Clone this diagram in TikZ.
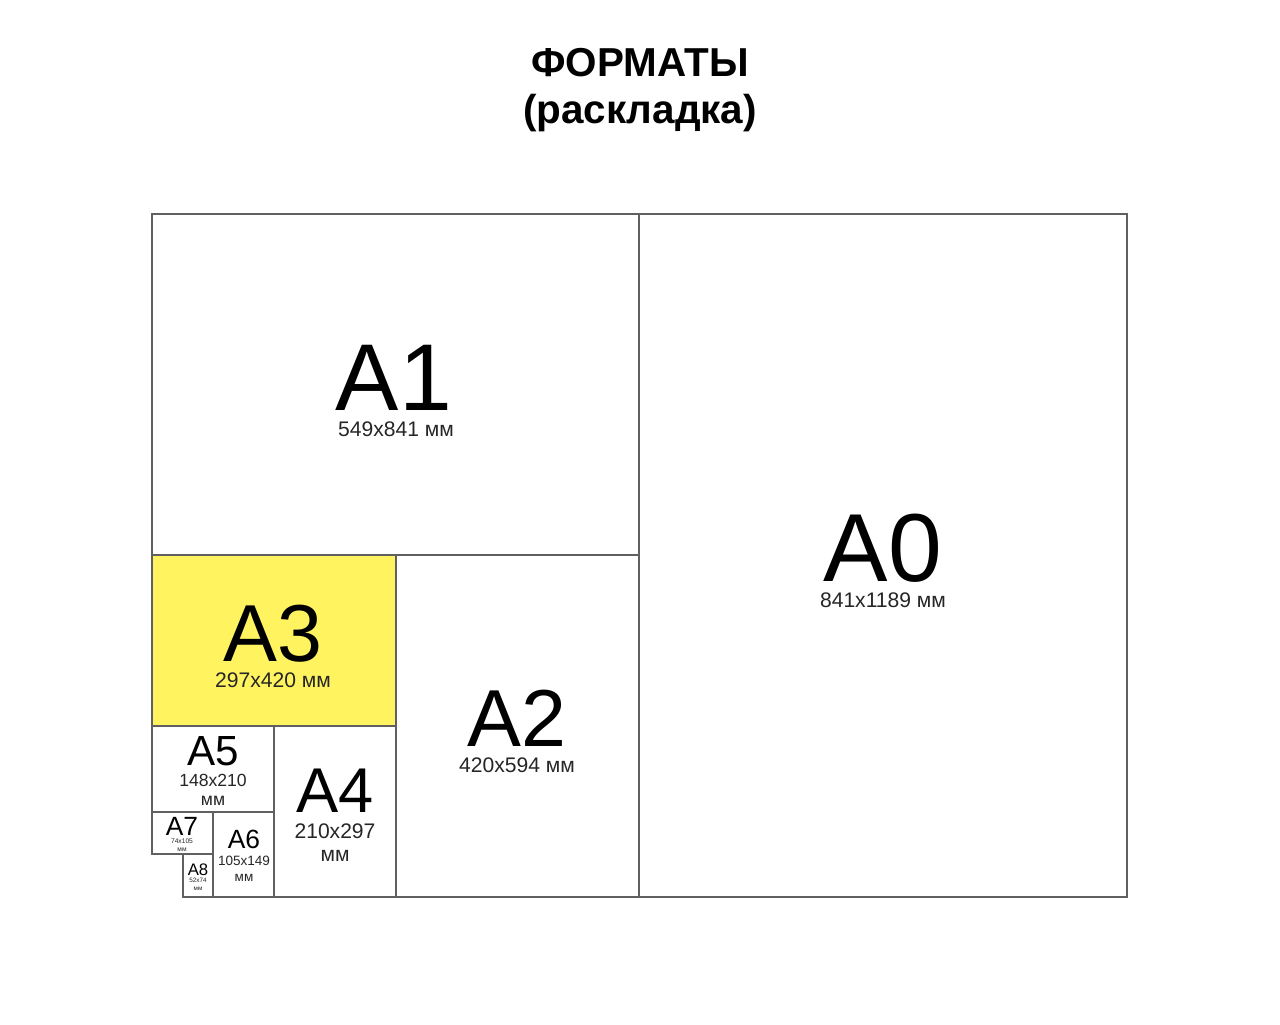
\documentclass[tikz,border=0pt]{standalone}
\usepackage{fontspec}
\setmainfont{Liberation Sans}
\definecolor{sheetgrey}{HTML}{606060}
\definecolor{athree}{HTML}{FFF35F}
\begin{document}
\begin{tikzpicture}[
        x=0.02cm, y=-0.02cm,
        sheet/.style={draw=sheetgrey, line width=0.6pt},
        fmt/.style={anchor=base, inner sep=0pt, font=\fontsize{#1}{#1}\selectfont},
        size/.style={anchor=base, inner sep=0pt, font=\fontsize{#1}{#1}\selectfont, text=black!85},
        title/.style={anchor=base, inner sep=0pt, font=\fontsize{23}{23}\selectfont\bfseries}
    ]
    \useasboundingbox[fill=white] (0,0) rectangle (1280,1024);
    % Title
    \node[title] (t1) at (640, 77) {ФОРМАТЫ};
    \node[title] (t2) at (640, 123) {(раскладка)};
    % Sheets
    \fill[athree] (152,555) rectangle (396,726);
    \draw[sheet] (639,214) rectangle (1127,897);
    \draw[sheet] (152,214) rectangle (639,555);
    \draw[sheet] (396,555) rectangle (639,897);
    \draw[sheet] (152,555) rectangle (396,726);
    \draw[sheet] (274,726) rectangle (396,897);
    \draw[sheet] (152,726) rectangle (274,812);
    \draw[sheet] (213,812) rectangle (274,897);
    \draw[sheet] (152,812) rectangle (213,854);
    \draw[sheet] (183,854) rectangle (213,897);
    % Labels
    \node[fmt=55] (a0) at (883, 581) {A0};
    \node[size=12] (a0mm) at (883, 607) {841x1189 мм};
    \node[fmt=54] (a1) at (394, 410) {A1};
    \node[size=12] (a1mm) at (396, 436) {549x841 мм};
    \node[fmt=46] (a2) at (517, 746) {A2};
    \node[size=12] (a2mm) at (517, 772) {420x594 мм};
    \node[fmt=46] (a3) at (273, 661) {A3};
    \node[size=12] (a3mm) at (273, 687) {297x420 мм};
    \node[fmt=36] (a4) at (335, 812) {A4};
    \node[size=12] (a4mm) at (335, 838) {210x297};
    \node[size=12] (a4mm2) at (335, 861) {мм};
    \node[fmt=24] (a5) at (213, 765) {A5};
    \node[size=10] (a5mm) at (213, 786) {148x210};
    \node[size=10] (a5mm2) at (213, 805) {мм};
    \node[fmt=15] (a6) at (244, 848) {A6};
    \node[size=7.7] (a6mm) at (244, 865) {105x149};
    \node[size=7.7] (a6mm2) at (244, 881) {мм};
    \node[fmt=15] (a7) at (182, 835) {A7};
    \node[size=3.8] (a7mm) at (182, 843) {74x105};
    \node[size=3.8] (a7mm2) at (182, 851) {мм};
    \node[fmt=9.5] (a8) at (198, 875) {A8};
    \node[size=3.6] (a8mm) at (198, 882) {52x74};
    \node[size=3.6] (a8mm2) at (198, 890) {мм};
\end{tikzpicture}
\end{document}
